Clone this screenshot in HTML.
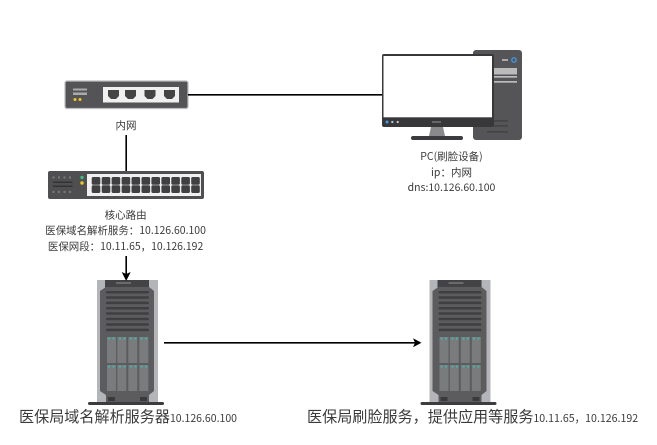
<!DOCTYPE html>
<html><head><meta charset="utf-8"><style>
html,body{margin:0;padding:0;background:#fff}
svg{display:block}
text{font-family:"Noto Sans CJK SC","Liberation Sans",sans-serif;fill:#3a3a3a;text-anchor:middle}
</style></head><body>
<svg width="657" height="445" viewBox="0 0 657 445" xmlns="http://www.w3.org/2000/svg" xmlns:xlink="http://www.w3.org/1999/xlink">
<defs>
<g id="srv">
<rect x="97" y="280" width="61" height="122" fill="#b4b5b9"/>
<rect x="105" y="280" width="44" height="8" fill="#434345"/>
<rect x="116" y="282" width="15" height="2" fill="#6a6a6c"/>
<path d="M106 287H149L154 291V391L149 395V402H106V395L100 391V291Z" fill="#5c5c5e"/>
<g fill="#3f3f41">
<rect x="106" y="291" width="43" height="2.500" rx="1.250"/><rect x="106" y="296.300" width="43" height="2.500" rx="1.250"/>
<rect x="106" y="301.600" width="43" height="2.500" rx="1.250"/><rect x="106" y="307" width="43" height="2.500" rx="1.250"/>
<rect x="106" y="312.300" width="43" height="2.500" rx="1.250"/><rect x="106" y="317.800" width="43" height="2.500" rx="1.250"/>
<rect x="106" y="323.200" width="43" height="2.500" rx="1.250"/><rect x="106" y="328.600" width="43" height="2.500" rx="1.250"/>
</g>
<g fill="#7a7b7d">
<rect x="107" y="337" width="9" height="26"/><rect x="117.300" y="337" width="9" height="26"/><rect x="128.300" y="337" width="9" height="26"/><rect x="139.300" y="337" width="9" height="26"/>
<rect x="107" y="365" width="9" height="26"/><rect x="117.300" y="365" width="9" height="26"/><rect x="128.300" y="365" width="9" height="26"/><rect x="139.300" y="365" width="9" height="26"/>
</g>
<g fill="#3fb5ad">
<rect x="108" y="337.500" width="2" height="2"/><rect x="112.500" y="337.500" width="2" height="2"/><rect x="119" y="337.500" width="2" height="2"/><rect x="123.500" y="337.500" width="2" height="2"/><rect x="130" y="337.500" width="2" height="2"/><rect x="134.500" y="337.500" width="2" height="2"/><rect x="140.500" y="337.500" width="2" height="2"/><rect x="145" y="337.500" width="2" height="2"/>
<rect x="108" y="365.500" width="2" height="2"/><rect x="112.500" y="365.500" width="2" height="2"/><rect x="119" y="365.500" width="2" height="2"/><rect x="123.500" y="365.500" width="2" height="2"/><rect x="130" y="365.500" width="2" height="2"/><rect x="134.500" y="365.500" width="2" height="2"/><rect x="140.500" y="365.500" width="2" height="2"/><rect x="145" y="365.500" width="2" height="2"/>
</g>
<rect x="108" y="397" width="7" height="4" fill="#3a3a3a"/><rect x="140" y="397" width="7" height="4" fill="#3a3a3a"/>
<rect x="88" y="402" width="76" height="3" rx="1.500" fill="#3c3c3e"/>
</g>
</defs>

<!-- small switch -->
<rect x="65" y="81" width="123" height="27.500" rx="2" fill="#545456" stroke="#bcbdc0" stroke-width="1.200"/>
<rect x="73" y="88.500" width="14" height="2" fill="#aaa"/><rect x="73" y="92.500" width="14" height="2.500" fill="#aaa"/>
<circle cx="75" cy="99.500" r="1.500" fill="#f2c81e"/><circle cx="80" cy="99.500" r="1.500" fill="#f2c81e"/>
<rect x="103" y="87" width="76" height="15.500" fill="#f0f0f0"/>
<g fill="#444">
<path d="M108 90H119V96L116 99H111L108 96Z"/><path d="M125 90H136V96L133 99H128L125 96Z"/><path d="M144.500 90H155.500V96L152.500 99H147.500L144.500 96Z"/><path d="M164 90H175V96L172 99H167L164 96Z"/>
</g>
<text x="126" y="129" font-size="10.500">内网</text>

<!-- core switch -->
<rect x="48" y="171" width="156" height="28" rx="2" fill="#4f4f51"/>
<rect x="87" y="174" width="114" height="22" fill="#f0f0f0"/>
<circle cx="82" cy="177.500" r="1.700" fill="#3dbb7d"/><circle cx="82" cy="183" r="1.700" fill="#f2c81e"/>
<g fill="#777"><circle cx="53.500" cy="177.500" r="1.200"/><circle cx="59" cy="177.500" r="1.200"/><circle cx="64.500" cy="177.500" r="1.200"/><circle cx="70" cy="177.500" r="1.200"/>
<circle cx="53.500" cy="192" r="1.200"/><circle cx="59" cy="192" r="1.200"/><circle cx="64.500" cy="192" r="1.200"/><circle cx="70" cy="192" r="1.200"/></g>
<g fill="#333"><rect x="53" y="181.500" width="19.500" height="1.500"/><rect x="53" y="185.500" width="19.500" height="1.500"/></g>
<g fill="#404042">
<rect x="91.700" y="177" width="8.600" height="7.700" rx="1.500"/><rect x="101.700" y="177" width="8.600" height="7.700" rx="1.500"/><rect x="111.600" y="177" width="8.600" height="7.700" rx="1.500"/><rect x="121.600" y="177" width="8.600" height="7.700" rx="1.500"/><rect x="131.500" y="177" width="8.600" height="7.700" rx="1.500"/><rect x="141.500" y="177" width="8.600" height="7.700" rx="1.500"/><rect x="151.400" y="177" width="8.600" height="7.700" rx="1.500"/><rect x="161.400" y="177" width="8.600" height="7.700" rx="1.500"/><rect x="171.300" y="177" width="8.600" height="7.700" rx="1.500"/><rect x="181.300" y="177" width="8.600" height="7.700" rx="1.500"/><rect x="188" y="177" width="8.600" height="7.700" rx="1.500" transform="translate(3.200 0)"/>
<rect x="91.700" y="185.300" width="8.600" height="7.700" rx="1.500"/><rect x="101.700" y="185.300" width="8.600" height="7.700" rx="1.500"/><rect x="111.600" y="185.300" width="8.600" height="7.700" rx="1.500"/><rect x="121.600" y="185.300" width="8.600" height="7.700" rx="1.500"/><rect x="131.500" y="185.300" width="8.600" height="7.700" rx="1.500"/><rect x="141.500" y="185.300" width="8.600" height="7.700" rx="1.500"/><rect x="151.400" y="185.300" width="8.600" height="7.700" rx="1.500"/><rect x="161.400" y="185.300" width="8.600" height="7.700" rx="1.500"/><rect x="171.300" y="185.300" width="8.600" height="7.700" rx="1.500"/><rect x="181.300" y="185.300" width="8.600" height="7.700" rx="1.500"/><rect x="188" y="185.300" width="8.600" height="7.700" rx="1.500" transform="translate(3.200 0)"/>
</g>
<text x="125.600" y="218.500" font-size="10.500">核心路由</text>
<text x="125.600" y="234" font-size="10.450">医保域名解析服务：10.126.60.100</text>
<text x="125.600" y="250" font-size="10.450">医保网段：10.11.65，10.126.192</text>

<!-- PC -->
<path d="M473 53a3 3 0 0 1 3-3H519a3 3 0 0 1 3 3V137a3 3 0 0 1-3 3H476a3 3 0 0 1-3-3Z" fill="#555557"/>
<rect x="502" y="59" width="6" height="2" fill="#aaa"/><circle cx="514" cy="60" r="2.200" fill="none" stroke="#3d9be9" stroke-width="1.300"/>
<rect x="494" y="68" width="23" height="6.500" fill="#bbb"/><rect x="494" y="76" width="23" height="1.700" fill="#bbb"/><rect x="494" y="81" width="23" height="1.700" fill="#bbb"/>
<g fill="#444"><rect x="494" y="120" width="14" height="1.700"/><rect x="494" y="125" width="14" height="1.700"/><rect x="487" y="131" width="21" height="1.700"/></g>
<rect x="382" y="54" width="112" height="73" rx="2" fill="#38383a"/>
<rect x="383.500" y="56" width="108.500" height="61.300" fill="#fff"/>
<circle cx="387" cy="122" r="1.500" fill="#3d9be9"/><circle cx="392.300" cy="122" r="1.100" fill="#ccc"/><circle cx="397.700" cy="122" r="1.100" fill="#ccc"/>
<rect x="432" y="121" width="9" height="2" fill="#666"/>
<path d="M431 127H443L445 136H429Z" fill="#8a8a8c"/>
<rect x="411" y="136" width="52" height="4" rx="2" fill="#3c3c3e"/>
<text x="451.500" y="160" font-size="10.500">PC(刷脸设备)</text>
<text x="451.500" y="176" font-size="10.500">ip：内网</text>
<text x="451.500" y="191" font-size="10.500">dns:10.126.60.100</text>

<!-- servers -->
<use xlink:href="#srv" href="#srv"/>
<use xlink:href="#srv" href="#srv" x="332.500"/>

<!-- connectors -->
<line x1="188" y1="94.800" x2="382" y2="94.800" stroke="#000" stroke-width="1.600"/>
<line x1="126.200" y1="135" x2="126.200" y2="171" stroke="#000" stroke-width="1.600"/>
<line x1="126.200" y1="256" x2="126.200" y2="275" stroke="#000" stroke-width="1.600"/>
<path d="M121.700 272L126.200 274L130.700 272L126.200 281Z" fill="#000"/>
<line x1="164" y1="342.800" x2="415" y2="342.800" stroke="#000" stroke-width="1.600"/>
<path d="M413 338.300L415 342.800L413 347.300L421.500 342.800Z" fill="#000"/>

<!-- bottom labels -->
<text x="19" y="422" font-size="15.100" style="text-anchor:start">医保局域名解析服务器<tspan font-size="10.500">10.126.60.100</tspan></text>
<text x="307" y="422" font-size="15.100" style="text-anchor:start">医保局刷脸服务，提供应用等服务<tspan font-size="10.600">10.11.65，10.126.192</tspan></text>
</svg>
</body></html>
